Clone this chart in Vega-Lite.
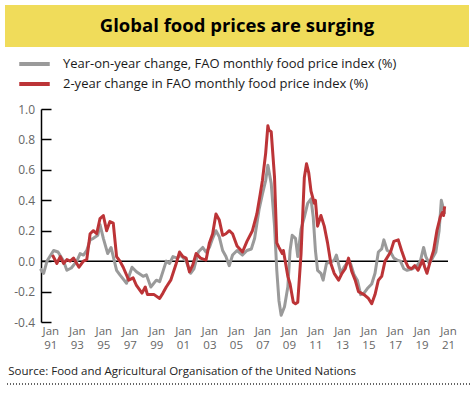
{
  "$schema": "https://vega.github.io/schema/vega-lite/v6.json",
  "background": "white",
  "padding": {"left": 4, "top": 5, "right": 5, "bottom": 3},
  "spacing": 7,
  "resolve": {"scale": {"color": "independent"}, "legend": {"color": "independent"}},
  "config": {"view": {"stroke": null}, "font": "Open Sans"},
  "vconcat": [
    {
      "width": 464,
      "height": 42,
      "view": {"fill": "#F0DC5A", "stroke": null},
      "data": {"values": [{"t": "Global food prices are surging"}]},
      "mark": {"type": "text", "font": "Open Sans", "fontWeight": "bold", "fontSize": 18.5, "color": "#000000", "baseline": "middle", "align": "center"},
      "encoding": {"text": {"field": "t"}}
    },
    {
      "spacing": 14,
      "resolve": {"scale": {"color": "independent"}, "legend": {"color": "independent"}},
      "vconcat": [
        {
          "width": 443,
          "height": 213,
          "layer": [
            {
              "data": {"values": [{"v": 0, "start": "1990-04-20", "end": "2021-01-01"}]},
              "mark": {"type": "rule", "color": "#000000", "strokeWidth": 1.5},
              "encoding": {
                "y": {"field": "v", "type": "quantitative"},
                "x": {"field": "start", "type": "temporal"},
                "x2": {"field": "end"}
              }
            },
            {
              "data": {"values": [
                {"date": "1990-04", "value": -0.05}, {"date": "1990-07", "value": -0.08}, {"date": "1990-10", "value": 0.0},
                {"date": "1991-04", "value": 0.07}, {"date": "1991-08", "value": 0.06}, {"date": "1992-01", "value": 0.0},
                {"date": "1992-04", "value": -0.06}, {"date": "1992-08", "value": -0.045}, {"date": "1993-01", "value": 0.0},
                {"date": "1993-04", "value": 0.05}, {"date": "1993-07", "value": 0.04}, {"date": "1993-10", "value": 0.07},
                {"date": "1994-01", "value": 0.14}, {"date": "1994-04", "value": 0.15}, {"date": "1994-08", "value": 0.17},
                {"date": "1994-10", "value": 0.24}, {"date": "1995-01", "value": 0.15}, {"date": "1995-03", "value": 0.1},
                {"date": "1995-05", "value": 0.05}, {"date": "1995-08", "value": 0.09}, {"date": "1996-01", "value": -0.06},
                {"date": "1996-04", "value": -0.09}, {"date": "1996-10", "value": -0.145}, {"date": "1997-03", "value": -0.04},
                {"date": "1997-07", "value": -0.07}, {"date": "1998-01", "value": -0.1}, {"date": "1998-04", "value": -0.09},
                {"date": "1998-08", "value": -0.17}, {"date": "1999-01", "value": -0.125}, {"date": "1999-04", "value": -0.135},
                {"date": "1999-10", "value": 0.0}, {"date": "2000-01", "value": -0.015}, {"date": "2000-04", "value": 0.03},
                {"date": "2000-08", "value": 0.02}, {"date": "2000-11", "value": 0.04}, {"date": "2001-04", "value": 0.0},
                {"date": "2001-08", "value": -0.08}, {"date": "2001-11", "value": -0.05}, {"date": "2002-03", "value": 0.06},
                {"date": "2002-07", "value": 0.09}, {"date": "2002-10", "value": 0.06}, {"date": "2003-01", "value": 0.09},
                {"date": "2003-04", "value": 0.15}, {"date": "2003-07", "value": 0.2}, {"date": "2003-10", "value": 0.16},
                {"date": "2004-01", "value": 0.07}, {"date": "2004-04", "value": 0.03}, {"date": "2004-07", "value": -0.03},
                {"date": "2004-10", "value": 0.04}, {"date": "2005-02", "value": 0.07}, {"date": "2005-07", "value": 0.04},
                {"date": "2005-11", "value": 0.07}, {"date": "2006-03", "value": 0.08}, {"date": "2006-06", "value": 0.15},
                {"date": "2006-10", "value": 0.34}, {"date": "2007-01", "value": 0.44}, {"date": "2007-04", "value": 0.53},
                {"date": "2007-06", "value": 0.63}, {"date": "2007-09", "value": 0.51}, {"date": "2007-12", "value": 0.23},
                {"date": "2008-02", "value": -0.06}, {"date": "2008-04", "value": -0.26}, {"date": "2008-06", "value": -0.355},
                {"date": "2008-09", "value": -0.3}, {"date": "2008-12", "value": -0.17}, {"date": "2009-02", "value": 0.07},
                {"date": "2009-04", "value": 0.17}, {"date": "2009-07", "value": 0.15}, {"date": "2009-09", "value": 0.03},
                {"date": "2009-12", "value": 0.21}, {"date": "2010-03", "value": 0.29}, {"date": "2010-06", "value": 0.38},
                {"date": "2010-09", "value": 0.41}, {"date": "2010-11", "value": 0.29}, {"date": "2011-01", "value": 0.07},
                {"date": "2011-03", "value": -0.06}, {"date": "2011-06", "value": -0.08}, {"date": "2011-08", "value": -0.125},
                {"date": "2011-11", "value": -0.015}, {"date": "2012-03", "value": -0.005}, {"date": "2012-06", "value": 0.005},
                {"date": "2012-08", "value": 0.04}, {"date": "2012-12", "value": -0.08}, {"date": "2013-03", "value": -0.04},
                {"date": "2013-07", "value": 0.0}, {"date": "2013-09", "value": -0.02}, {"date": "2013-12", "value": -0.09},
                {"date": "2014-03", "value": -0.125}, {"date": "2014-06", "value": -0.22}, {"date": "2014-09", "value": -0.21},
                {"date": "2014-12", "value": -0.18}, {"date": "2015-04", "value": -0.15}, {"date": "2015-07", "value": -0.08},
                {"date": "2015-10", "value": 0.06}, {"date": "2016-01", "value": 0.08}, {"date": "2016-03", "value": 0.14},
                {"date": "2016-06", "value": 0.07}, {"date": "2016-09", "value": 0.06}, {"date": "2016-12", "value": 0.02},
                {"date": "2017-03", "value": 0.007}, {"date": "2017-06", "value": 0.0}, {"date": "2017-09", "value": -0.05},
                {"date": "2017-12", "value": -0.06}, {"date": "2018-05", "value": -0.05}, {"date": "2018-09", "value": -0.03},
                {"date": "2018-12", "value": 0.0}, {"date": "2019-03", "value": 0.09}, {"date": "2019-05", "value": 0.03},
                {"date": "2019-08", "value": -0.015}, {"date": "2019-11", "value": 0.02}, {"date": "2020-02", "value": 0.06},
                {"date": "2020-05", "value": 0.2}, {"date": "2020-07", "value": 0.4}, {"date": "2020-09", "value": 0.34},
                {"date": "2020-10", "value": 0.31}
              ]},
              "mark": {"type": "line", "strokeWidth": 3, "strokeJoin": "round"},
              "encoding": {
                "x": {"field": "date", "type": "temporal"},
                "y": {"field": "value", "type": "quantitative"},
                "color": {"datum": "Year-on-year change, FAO monthly food price index (%)"}
              }
            },
            {
              "data": {"values": [
                {"date": "1991-03", "value": 0.04}, {"date": "1991-07", "value": -0.015}, {"date": "1991-10", "value": 0.03},
                {"date": "1992-01", "value": -0.015}, {"date": "1992-04", "value": 0.01}, {"date": "1992-07", "value": 0.0},
                {"date": "1992-10", "value": 0.02}, {"date": "1993-03", "value": -0.04}, {"date": "1993-07", "value": 0.0},
                {"date": "1993-10", "value": 0.01}, {"date": "1994-01", "value": 0.18}, {"date": "1994-04", "value": 0.2},
                {"date": "1994-07", "value": 0.18}, {"date": "1994-10", "value": 0.28}, {"date": "1995-01", "value": 0.3},
                {"date": "1995-04", "value": 0.2}, {"date": "1995-07", "value": 0.26}, {"date": "1995-10", "value": 0.25},
                {"date": "1996-01", "value": 0.03}, {"date": "1996-04", "value": 0.0}, {"date": "1996-07", "value": -0.04},
                {"date": "1996-12", "value": -0.125}, {"date": "1997-04", "value": -0.11}, {"date": "1997-07", "value": -0.16},
                {"date": "1997-12", "value": -0.21}, {"date": "1998-03", "value": -0.17}, {"date": "1998-05", "value": -0.22},
                {"date": "1998-11", "value": -0.22}, {"date": "1999-04", "value": -0.245}, {"date": "1999-07", "value": -0.21},
                {"date": "1999-10", "value": -0.17}, {"date": "2000-02", "value": -0.125}, {"date": "2000-07", "value": -0.015},
                {"date": "2000-10", "value": 0.06}, {"date": "2001-01", "value": 0.03}, {"date": "2001-04", "value": 0.02},
                {"date": "2001-07", "value": -0.07}, {"date": "2001-10", "value": -0.025}, {"date": "2002-01", "value": 0.05},
                {"date": "2002-05", "value": 0.02}, {"date": "2002-10", "value": 0.007}, {"date": "2003-01", "value": 0.12},
                {"date": "2003-04", "value": 0.18}, {"date": "2003-07", "value": 0.31}, {"date": "2003-10", "value": 0.27},
                {"date": "2004-01", "value": 0.17}, {"date": "2004-04", "value": 0.18}, {"date": "2004-07", "value": 0.2},
                {"date": "2004-10", "value": 0.18}, {"date": "2005-02", "value": 0.1}, {"date": "2005-07", "value": 0.06},
                {"date": "2005-11", "value": 0.13}, {"date": "2006-04", "value": 0.2}, {"date": "2006-08", "value": 0.31},
                {"date": "2006-11", "value": 0.44}, {"date": "2007-01", "value": 0.53}, {"date": "2007-04", "value": 0.71},
                {"date": "2007-06", "value": 0.89}, {"date": "2007-07", "value": 0.86}, {"date": "2007-09", "value": 0.85},
                {"date": "2007-12", "value": 0.55}, {"date": "2008-02", "value": 0.12}, {"date": "2008-04", "value": 0.09},
                {"date": "2008-07", "value": 0.05}, {"date": "2008-08", "value": 0.07}, {"date": "2008-12", "value": -0.1},
                {"date": "2009-02", "value": -0.15}, {"date": "2009-05", "value": -0.27}, {"date": "2009-07", "value": -0.28},
                {"date": "2009-09", "value": -0.27}, {"date": "2009-12", "value": 0.05}, {"date": "2010-03", "value": 0.55},
                {"date": "2010-05", "value": 0.64}, {"date": "2010-07", "value": 0.58}, {"date": "2010-09", "value": 0.46},
                {"date": "2010-12", "value": 0.38}, {"date": "2011-01", "value": 0.4}, {"date": "2011-03", "value": 0.23},
                {"date": "2011-06", "value": 0.3}, {"date": "2011-09", "value": 0.23}, {"date": "2011-12", "value": 0.12},
                {"date": "2012-03", "value": -0.015}, {"date": "2012-06", "value": -0.08}, {"date": "2012-10", "value": -0.125},
                {"date": "2013-01", "value": -0.08}, {"date": "2013-04", "value": -0.05}, {"date": "2013-07", "value": 0.02},
                {"date": "2013-10", "value": -0.07}, {"date": "2014-01", "value": -0.125}, {"date": "2014-04", "value": -0.2},
                {"date": "2014-09", "value": -0.22}, {"date": "2015-01", "value": -0.245}, {"date": "2015-04", "value": -0.28},
                {"date": "2015-07", "value": -0.22}, {"date": "2015-10", "value": -0.125}, {"date": "2016-01", "value": -0.1},
                {"date": "2016-04", "value": 0.0}, {"date": "2016-09", "value": 0.06}, {"date": "2016-12", "value": 0.13},
                {"date": "2017-04", "value": 0.14}, {"date": "2017-07", "value": 0.07}, {"date": "2017-10", "value": 0.007},
                {"date": "2018-01", "value": -0.04}, {"date": "2018-04", "value": -0.05}, {"date": "2018-07", "value": -0.03},
                {"date": "2018-10", "value": -0.06}, {"date": "2019-02", "value": 0.007}, {"date": "2019-04", "value": -0.04},
                {"date": "2019-06", "value": -0.08}, {"date": "2019-09", "value": 0.0}, {"date": "2019-12", "value": 0.07},
                {"date": "2020-03", "value": 0.2}, {"date": "2020-06", "value": 0.29}, {"date": "2020-08", "value": 0.32},
                {"date": "2020-09", "value": 0.3}, {"date": "2020-10", "value": 0.36}
              ]},
              "mark": {"type": "line", "strokeWidth": 3, "strokeJoin": "round"},
              "encoding": {
                "x": {"field": "date", "type": "temporal"},
                "y": {"field": "value", "type": "quantitative"},
                "color": {"datum": "2-year change in FAO monthly food price index (%)"}
              }
            }
          ],
          "encoding": {
            "x": {
              "field": "date", "type": "temporal",
              "scale": {"domain": [{"year": 1987, "month": 8, "date": 1}, {"year": 2021, "month": 1, "date": 1}]},
              "axis": {
                "title": null, "grid": false, "domain": false, "ticks": false,
                "values": [{"year": 1991, "month": 1, "date": 1}, {"year": 1993, "month": 1, "date": 1}, {"year": 1995, "month": 1, "date": 1}, {"year": 1997, "month": 1, "date": 1}, {"year": 1999, "month": 1, "date": 1}, {"year": 2001, "month": 1, "date": 1}, {"year": 2003, "month": 1, "date": 1}, {"year": 2005, "month": 1, "date": 1}, {"year": 2007, "month": 1, "date": 1}, {"year": 2009, "month": 1, "date": 1}, {"year": 2011, "month": 1, "date": 1}, {"year": 2013, "month": 1, "date": 1}, {"year": 2015, "month": 1, "date": 1}, {"year": 2017, "month": 1, "date": 1}, {"year": 2019, "month": 1, "date": 1}, {"year": 2021, "month": 1, "date": 1}],
                "labelExpr": "['Jan', timeFormat(datum.value, '%y')]",
                "labelFont": "Open Sans", "labelFontSize": 11.5, "labelColor": "#666666",
                "labelLineHeight": 14, "labelPadding": 3, "labelOverlap": false, "labelFlush": false
              }
            },
            "y": {
              "field": "value", "type": "quantitative",
              "scale": {"domain": [-0.4, 1.0], "nice": false, "zero": false},
              "axis": {
                "title": null, "grid": false, "offset": -36,
                "values": [-0.4, -0.2, 0, 0.2, 0.4, 0.6, 0.8, 1.0],
                "labelExpr": "datum.value < 0 ? '-' + format(-datum.value, '.1f') : format(datum.value, '.1f')",
                "domainColor": "#000000", "domainWidth": 1.5,
                "tickColor": "#000000", "tickWidth": 1.5, "tickSize": -10,
                "labelPadding": 16.5,
                "labelFont": "Open Sans", "labelFontSize": 12, "labelColor": "#666666"
              }
            },
            "color": {
              "type": "nominal",
              "scale": {
                "domain": ["Year-on-year change, FAO monthly food price index (%)", "2-year change in FAO monthly food price index (%)"],
                "range": ["#9A9A9A", "#BC3437"]
              },
              "legend": {
                "title": null, "orient": "none", "legendX": 12, "legendY": -55,
                "symbolType": "stroke", "symbolSize": 930, "symbolStrokeWidth": 4,
                "clipHeight": 20, "rowPadding": 0, "labelOffset": 11, "padding": 0,
                "labelFont": "Open Sans", "labelFontSize": 13, "labelColor": "#1a1a1a", "labelLimit": 0
              }
            }
          }
        },
        {
          "width": 465,
          "height": 5,
          "title": {"text": "Source: Food and Agricultural Organisation of the United Nations", "anchor": "start", "font": "Open Sans", "fontSize": 11.5, "fontWeight": "normal", "color": "#222222", "offset": 2, "dx": 4},
          "data": {"values": [{"v": 0}]},
          "mark": {"type": "rule", "color": "#333333", "strokeWidth": 1.5, "strokeDash": [1, 2]},
          "encoding": {"y": {"field": "v", "type": "quantitative", "scale": {"domain": [0, 1]}, "axis": null}}
        }
      ]
    }
  ]
}
